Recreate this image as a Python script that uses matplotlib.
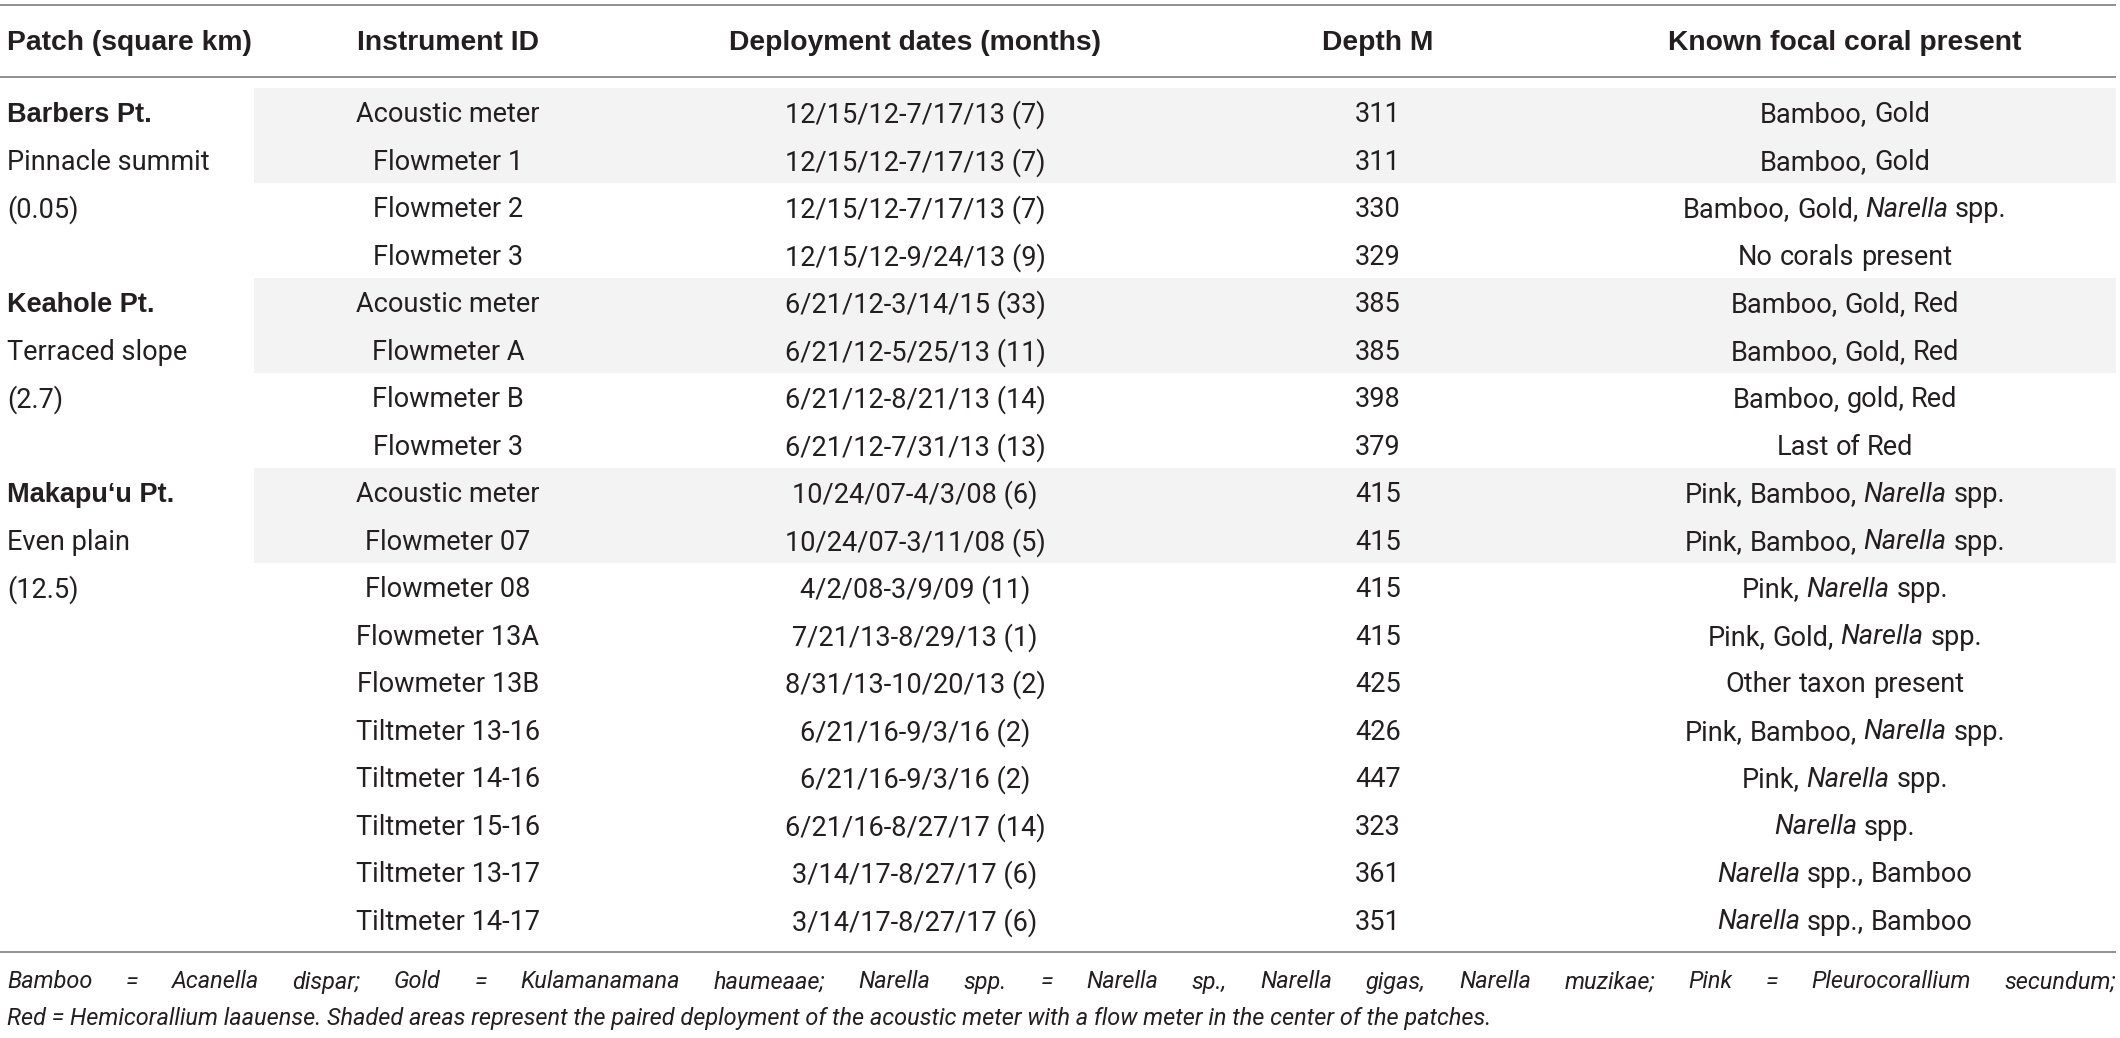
import matplotlib

matplotlib.use("Agg")
import matplotlib.pyplot as plt
from matplotlib.patches import Rectangle

# ---- table content -------------------------------------------------------
headers = ["Patch (square km)", "Instrument ID", "Deployment dates (months)",
           "Depth M", "Known focal coral present"]

patch_names = ["Barbers Pt.", "Keahole Pt.", "Makapu\u2018u Pt."]
patch_types = ["Pinnacle summit", "Terraced slope", "Even plain"]
patch_areas = ["(0.05)", "(2.7)", "(12.5)"]
patch_nrows = [4, 4, 10]

instruments = [
    "Acoustic meter", "Flowmeter 1", "Flowmeter 2", "Flowmeter 3",
    "Acoustic meter", "Flowmeter A", "Flowmeter B", "Flowmeter 3",
    "Acoustic meter", "Flowmeter 07", "Flowmeter 08", "Flowmeter 13A",
    "Flowmeter 13B", "Tiltmeter 13-16", "Tiltmeter 14-16", "Tiltmeter 15-16",
    "Tiltmeter 13-17", "Tiltmeter 14-17",
]
dates = [
    "12/15/12-7/17/13 (7)", "12/15/12-7/17/13 (7)", "12/15/12-7/17/13 (7)",
    "12/15/12-9/24/13 (9)",
    "6/21/12-3/14/15 (33)", "6/21/12-5/25/13 (11)", "6/21/12-8/21/13 (14)",
    "6/21/12-7/31/13 (13)",
    "10/24/07-4/3/08 (6)", "10/24/07-3/11/08 (5)", "4/2/08-3/9/09 (11)",
    "7/21/13-8/29/13 (1)", "8/31/13-10/20/13 (2)", "6/21/16-9/3/16 (2)",
    "6/21/16-9/3/16 (2)", "6/21/16-8/27/17 (14)", "3/14/17-8/27/17 (6)",
    "3/14/17-8/27/17 (6)",
]
depths = [311, 311, 330, 329, 385, 385, 398, 379,
          415, 415, 415, 415, 425, 426, 447, 323, 361, 351]
# *word* marks the italic genus name
corals = [
    "Bamboo, Gold", "Bamboo, Gold", "Bamboo, Gold, *Narella* spp.",
    "No corals present",
    "Bamboo, Gold, Red", "Bamboo, Gold, Red", "Bamboo, gold, Red", "Last of Red",
    "Pink, Bamboo, *Narella* spp.", "Pink, Bamboo, *Narella* spp.",
    "Pink, *Narella* spp.", "Pink, Gold, *Narella* spp.", "Other taxon present",
    "Pink, Bamboo, *Narella* spp.", "Pink, *Narella* spp.", "*Narella* spp.",
    "*Narella* spp., Bamboo", "*Narella* spp., Bamboo",
]
shaded_rows = [0, 1, 4, 5, 8, 9]

note_1 = ("Bamboo = Acanella dispar; Gold = Kulamanamana haumeaae; Narella spp. = "
          "Narella sp., Narella gigas, Narella muzikae; Pink = Pleurocorallium secundum;")
note_2 = ("Red = Hemicorallium laauense. Shaded areas represent the paired deployment "
          "of the acoustic meter with a flow meter in the center of the patches.")

# ---- style ---------------------------------------------------------------
W, H = 2120, 1038
INK = "#231f20"
RULE = "#7d7d7d"
SHADE = "#f3f3f3"
BODY = dict(family=["Roboto", "DejaVu Sans"], weight="normal", size=19.5, color=INK)
HEAD = dict(family=["Liberation Sans", "DejaVu Sans"], weight="bold", size=20.3, color=INK)
NOTE = dict(family=["Roboto", "DejaVu Sans"], weight="normal", style="italic",
            size=16.9, color=INK)

col_x = [7, 448, 915, 1378, 1845]
x_left, x_right = 0, 2116
head_y = 43
rule_top, rule_head, rule_bottom = 5, 77, 952
body_top, row_h = 88, 47.5
note_y = [982, 1018]

fig = plt.figure(figsize=(W / 100, H / 100), dpi=100)
ax = fig.add_axes([0, 0, 1, 1])
ax.set_xlim(0, W)
ax.set_ylim(H, 0)
ax.axis("off")
renderer = fig.canvas.get_renderer()


def text_width(t):
    return t.get_window_extent(renderer).width


def space_width(props):
    a = ax.text(0, 0, "x x", **props)
    b = ax.text(0, 0, "xx", **props)
    w = text_width(a) - text_width(b)
    a.remove()
    b.remove()
    return w


def rich_center(xc, y, s):
    """Centre a cell string where *word* is set in italics."""
    arts, widths = [], []
    for word in s.split(" "):
        style = "italic" if word.startswith("*") else "normal"
        t = ax.text(0, y, word.replace("*", ""), ha="left", va="center",
                    style=style, **BODY)
        arts.append(t)
        widths.append(text_width(t))
    sp = space_width(BODY)
    x = xc - (sum(widths) + sp * (len(arts) - 1)) / 2
    for t, w in zip(arts, widths):
        t.set_x(x)
        x += w + sp


# shading for paired deployments
for r in shaded_rows:
    ax.add_patch(Rectangle((254, body_top + r * row_h), x_right - 254, row_h,
                           facecolor=SHADE, edgecolor="none", zorder=0))

for yy in (rule_top, rule_head, rule_bottom):
    ax.plot([x_left, x_right], [yy, yy], color=RULE, lw=1.2, solid_capstyle="butt")

# header
ax.text(col_x[0], head_y, headers[0], ha="left", va="center", **HEAD)
for x, h in zip(col_x[1:], headers[1:]):
    ax.text(x, head_y, h, ha="center", va="center", **HEAD)


def row_y(i):
    return body_top + i * row_h + row_h / 2 + 3


# patch column
start = 0
for name, kind, area, n in zip(patch_names, patch_types, patch_areas, patch_nrows):
    ax.text(col_x[0], row_y(start), name, ha="left", va="center",
            **{**HEAD, "size": 19.5})
    ax.text(col_x[0], row_y(start + 1), kind, ha="left", va="center", **BODY)
    ax.text(col_x[0], row_y(start + 2), area, ha="left", va="center", **BODY)
    start += n

for i in range(len(instruments)):
    y = row_y(i)
    ax.text(col_x[1], y, instruments[i], ha="center", va="center", **BODY)
    ax.text(col_x[2], y, dates[i], ha="center", va="center", **BODY)
    ax.text(col_x[3], y, str(depths[i]), ha="center", va="center", **BODY)
    rich_center(col_x[4], y, corals[i])

# footnote: first line justified, second line ragged
words = note_1.split(" ")
arts = [ax.text(0, note_y[0], w, ha="left", va="center", **NOTE) for w in words]
widths = [text_width(t) for t in arts]
gap = (x_right - col_x[0] - sum(widths)) / (len(words) - 1)
x = col_x[0]
for t, w in zip(arts, widths):
    t.set_x(x)
    x += w + gap
ax.text(col_x[0], note_y[1], note_2, ha="left", va="center", **NOTE)

fig.savefig("out.png", dpi=100, facecolor="white")
